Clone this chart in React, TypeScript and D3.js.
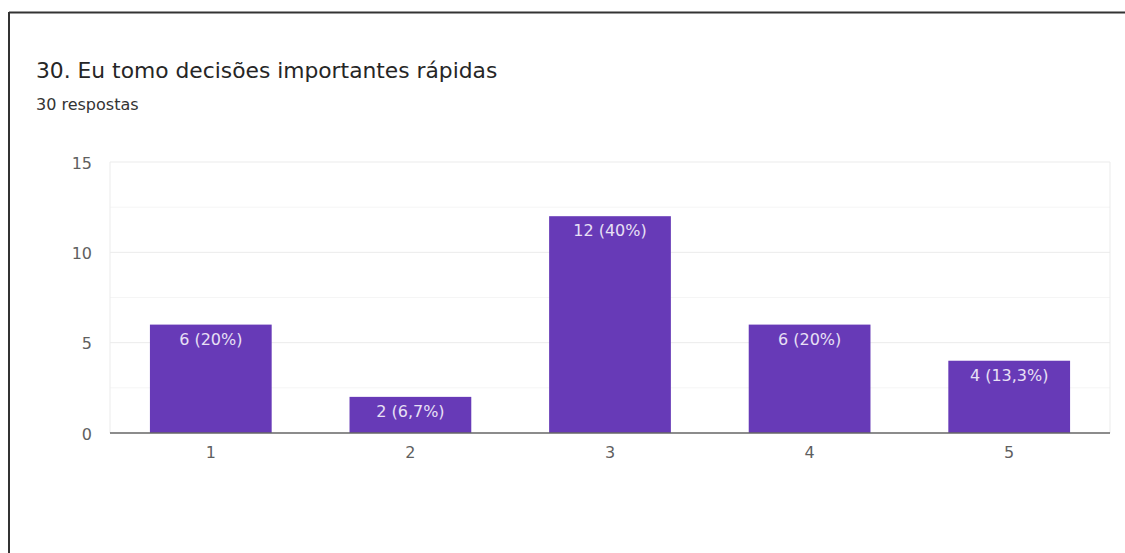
import React from "react";
import * as d3 from "d3";

const categories = ["1", "2", "3", "4", "5"];
const counts = [6, 2, 12, 6, 4];
const labels = ["6 (20%)", "2 (6,7%)", "12 (40%)", "6 (20%)", "4 (13,3%)"];
const yTicks = [0, 5, 10, 15];
const yMinorTicks = [2.5, 7.5, 12.5];

const W = 1125;
const H = 553;
const plot = { left: 110, right: 1110, top: 162, bottom: 433 };

export default function App() {
  const x = d3
    .scaleBand<string>()
    .domain(categories)
    .range([plot.left, plot.right])
    .paddingInner(0.39)
    .paddingOuter(0.2);
  const y = d3.scaleLinear().domain([0, 15]).range([plot.bottom, plot.top]);
  const font = "'DejaVu Sans', Verdana, sans-serif";

  return (
    <svg
      width={W}
      height={H}
      style={{ position: "absolute", left: 0, top: 0, background: "#fff" }}
    >
      <rect x={0} y={0} width={W} height={H} fill="#fff" />
      {/* frame */}
      <line x1={9} y1={12.5} x2={W} y2={12.5} stroke="#333" strokeWidth={2} />
      <line x1={9} y1={12} x2={9} y2={H} stroke="#333" strokeWidth={2} />

      <text x={36} y={78} fontFamily={font} fontSize={21.8} fill="#262626">
        30. Eu tomo decisões importantes rápidas
      </text>
      <text x={36} y={110} fontFamily={font} fontSize={16} fill="#333">
        30 respostas
      </text>

      {/* gridlines */}
      {yMinorTicks.map((t) => (
        <line
          key={"m" + t}
          x1={plot.left}
          x2={plot.right}
          y1={y(t)}
          y2={y(t)}
          stroke="#f5f5f5"
          strokeWidth={1}
        />
      ))}
      {yTicks.filter((t) => t > 0).map((t) => (
        <line
          key={"g" + t}
          x1={plot.left}
          x2={plot.right}
          y1={y(t)}
          y2={y(t)}
          stroke="#ebebeb"
          strokeWidth={1}
        />
      ))}
      <line x1={plot.left} x2={plot.left} y1={plot.top} y2={plot.bottom} stroke="#ebebeb" />
      <line x1={plot.right} x2={plot.right} y1={plot.top} y2={plot.bottom} stroke="#ebebeb" />

      {yTicks.map((t) => (
        <text
          key={"yt" + t}
          x={92}
          y={y(t) + 6.5}
          textAnchor="end"
          fontFamily={font}
          fontSize={16}
          fill="#5f5f5f"
        >
          {t}
        </text>
      ))}

      {categories.map((c, i) => {
        const bx = x(c)!;
        const by = y(counts[i]);
        return (
          <g key={c}>
            <rect
              x={bx}
              y={by}
              width={x.bandwidth()}
              height={plot.bottom - by}
              fill="#673ab7"
            />
            <text
              x={bx + x.bandwidth() / 2}
              y={by + 20}
              textAnchor="middle"
              fontFamily={font}
              fontSize={16}
              fill="#e8e0f5"
            >
              {labels[i]}
            </text>
            <text
              x={bx + x.bandwidth() / 2}
              y={458}
              textAnchor="middle"
              fontFamily={font}
              fontSize={16}
              fill="#5f5f5f"
            >
              {c}
            </text>
          </g>
        );
      })}

      <line
        x1={plot.left}
        x2={plot.right}
        y1={plot.bottom}
        y2={plot.bottom}
        stroke="#666"
        strokeWidth={1.5}
      />
    </svg>
  );
}
